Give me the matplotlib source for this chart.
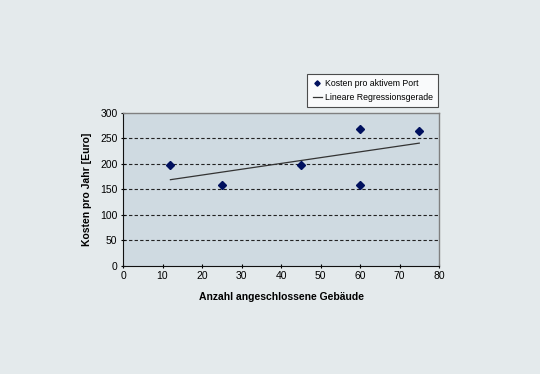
import numpy as np
import matplotlib.pyplot as plt

plt.rcParams['font.family'] = ['Liberation Sans', 'DejaVu Sans']

# Daten
gebaeude = np.array([12, 25, 45, 60, 60, 75])
kosten = np.array([197, 159, 197, 268, 159, 265])
x_ticks = [0, 10, 20, 30, 40, 50, 60, 70, 80]
y_ticks = [0, 50, 100, 150, 200, 250, 300]

# lineare Regression
m, b = np.polyfit(gebaeude, kosten, 1)
x_fit = np.array([gebaeude.min(), gebaeude.max()])
y_fit = m*x_fit + b

fig = plt.figure(figsize=(5.4, 3.74), dpi=100, facecolor='#e4eaec')
ax = fig.add_axes([0.2278, 0.2896, 0.5852, 0.4091])
ax.set_facecolor('#cfdae1')

for yv in y_ticks[1:-1]:
    ax.axhline(yv, color='#222222', lw=0.8, ls=(0, (3, 2)), zorder=1)

ax.plot(gebaeude, kosten, 'D', color='#00105e', markersize=4.5,
        label='Kosten pro aktivem Port', zorder=3)
ax.plot(x_fit, y_fit, '-', color='#333333', lw=0.9,
        label='Lineare Regressionsgerade', zorder=2)

ax.set_xlim(0, 80)
ax.set_ylim(0, 300)
ax.set_xticks(x_ticks)
ax.set_yticks(y_ticks)
ax.tick_params(labelsize=7.5, length=3, width=0.8, direction='inout', pad=2.5)

for s in ['top', 'right']:
    ax.spines[s].set_color('#808080')
    ax.spines[s].set_linewidth(1.0)
for s in ['left', 'bottom']:
    ax.spines[s].set_color('#111111')
    ax.spines[s].set_linewidth(0.8)

ax.set_xlabel('Anzahl angeschlossene Gebäude', fontsize=7.5,
              fontweight='bold', labelpad=8)
ax.set_ylabel('Kosten pro Jahr [Euro]', fontsize=7.5,
              fontweight='bold', labelpad=6)

leg = ax.legend(loc='lower right', bbox_to_anchor=(0.997, 1.037), fontsize=6.3,
                frameon=True, fancybox=False, handlelength=1.1,
                handletextpad=0.3, borderpad=0.6, labelspacing=0.5,
                borderaxespad=0, markerscale=0.6)
leg.get_frame().set_edgecolor('#222222')
leg.get_frame().set_facecolor('white')
leg.get_frame().set_linewidth(0.8)

plt.savefig('out.png', dpi=100, facecolor=fig.get_facecolor())
